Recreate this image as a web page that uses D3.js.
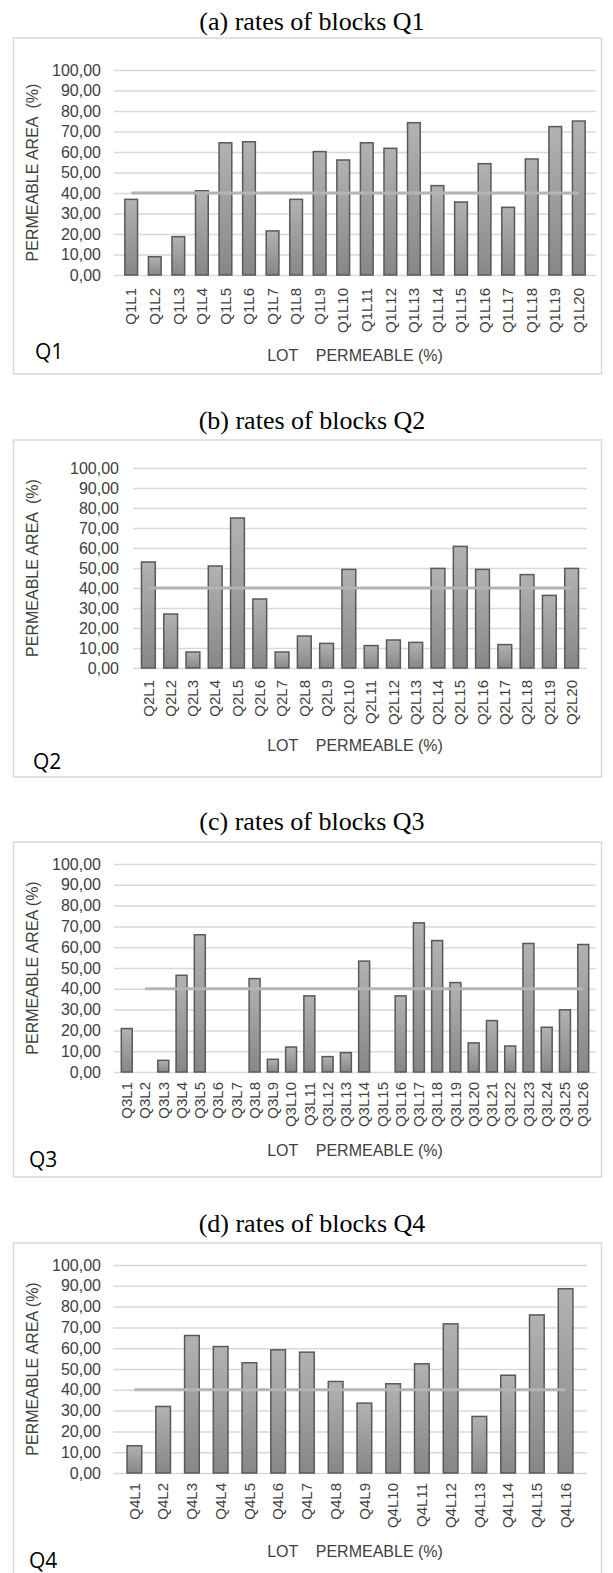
<!DOCTYPE html>
<html>
<head>
<meta charset="utf-8">
<script src="https://cdn.jsdelivr.net/npm/d3@7"></script>
<style>
  body { margin: 0; background: #fff; }
  svg { display: block; }
</style>
</head>
<body>
<div id="chart"></div>
<script>
// values (permeable area, %)
var q1Lots = ["Q1L1","Q1L2","Q1L3","Q1L4","Q1L5","Q1L6","Q1L7","Q1L8","Q1L9","Q1L10",
              "Q1L11","Q1L12","Q1L13","Q1L14","Q1L15","Q1L16","Q1L17","Q1L18","Q1L19","Q1L20"];
var q1Rates = [36.9, 8.9, 18.7, 41.1, 64.5, 65.0, 21.5, 36.9, 60.2, 56.1,
               64.5, 61.8, 74.3, 43.6, 35.6, 54.3, 33.0, 56.6, 72.4, 75.1];

var q2Lots = ["Q2L1","Q2L2","Q2L3","Q2L4","Q2L5","Q2L6","Q2L7","Q2L8","Q2L9","Q2L10",
              "Q2L11","Q2L12","Q2L13","Q2L14","Q2L15","Q2L16","Q2L17","Q2L18","Q2L19","Q2L20"];
var q2Rates = [53.0, 27.0, 8.0, 51.0, 75.0, 34.5, 8.0, 16.0, 12.3, 49.3,
               11.2, 14.0, 12.8, 49.8, 60.8, 49.3, 11.7, 46.7, 36.3, 49.8];

var q3Lots = ["Q3L1","Q3L2","Q3L3","Q3L4","Q3L5","Q3L6","Q3L7","Q3L8","Q3L9","Q3L10",
              "Q3L11","Q3L12","Q3L13","Q3L14","Q3L15","Q3L16","Q3L17","Q3L18","Q3L19","Q3L20",
              "Q3L21","Q3L22","Q3L23","Q3L24","Q3L25","Q3L26"];
var q3Rates = [20.9, 0, 5.6, 46.5, 66.0, 0, 0, 44.9, 6.1, 12.0,
               36.6, 7.4, 9.3, 53.3, 0, 36.6, 71.7, 63.2, 43.0, 14.0,
               24.7, 12.5, 61.8, 21.5, 29.9, 61.3];

var q4Lots = ["Q4L1","Q4L2","Q4L3","Q4L4","Q4L5","Q4L6","Q4L7","Q4L8","Q4L9","Q4L10",
              "Q4L11","Q4L12","Q4L13","Q4L14","Q4L15","Q4L16"];
var q4Rates = [13.1, 32.0, 66.1, 60.8, 53.0, 59.2, 58.1, 44.0, 33.6, 42.9,
               52.5, 71.7, 27.2, 47.0, 76.0, 88.6];

var yTicks = [0, 10, 20, 30, 40, 50, 60, 70, 80, 90, 100];
var threshold = 40;

var w = 613;
var h = 1573;

var svg = d3.select("#chart")
            .append("svg")
            .attr("width", w)
            .attr("height", h);

// bar gradient: lighter on top, darker at the base
var grad = svg.append("defs").append("linearGradient")
              .attr("id", "barFill")
              .attr("x1", 0).attr("y1", 0).attr("x2", 0).attr("y2", 1);
grad.append("stop").attr("offset", "0%").attr("stop-color", "#b2b2b2");
grad.append("stop").attr("offset", "100%").attr("stop-color", "#878787");

var comma = d3.formatLocale({decimal: ",", thousands: ".", grouping: [3], currency: ["", ""]}).format(".2f");

var panels = [
  {title: "(a) rates of blocks Q1", block: "Q1", yTitle: "PERMEABLE AREA  (%)",
   lots: q1Lots, rates: q1Rates, threshFrom: 0,
   titleY: 29.5, boxTop: 38, boxBottom: 374, top: 70, bottom: 275, left: 114, right: 596,
   tickX: 101, labelGap: 13, lotY: 360.5, blockX: 35, blockY: 359, pad: 0.46},
  {title: "(b) rates of blocks Q2", block: "Q2", yTitle: "PERMEABLE AREA  (%)",
   lots: q2Lots, rates: q2Rates, threshFrom: 0,
   titleY: 429, boxTop: 440, boxBottom: 777, top: 468, bottom: 668, left: 133, right: 587,
   tickX: 119, labelGap: 12, lotY: 751, blockX: 33, blockY: 769, pad: 0.38},
  {title: "(c) rates of blocks Q3", block: "Q3", yTitle: "PERMEABLE AREA (%)",
   lots: q3Lots, rates: q3Rates, threshFrom: 1,
   titleY: 830, boxTop: 842, boxBottom: 1177, top: 864, bottom: 1072, left: 114, right: 596,
   tickX: 101, labelGap: 10, lotY: 1156, blockX: 29, blockY: 1167, pad: 0.4},
  {title: "(d) rates of blocks Q4", block: "Q4", yTitle: "PERMEABLE AREA (%)",
   lots: q4Lots, rates: q4Rates, threshFrom: 0,
   titleY: 1232, boxTop: 1243, boxBottom: 1600, top: 1265, bottom: 1473, left: 113, right: 587,
   tickX: 101, labelGap: 10, lotY: 1557, blockX: 29, blockY: 1568, pad: 0.49}
];

panels.forEach(drawPanel);

function drawPanel(p) {
    var g = svg.append("g");

    // caption above the frame
    g.append("text")
        .attr("x", 312)
        .attr("y", p.titleY)
        .attr("text-anchor", "middle")
        .style("font-family", "'Liberation Serif', 'Times New Roman', serif")
        .style("font-size", "26px")
        .style("fill", "#000")
        .text(p.title);

    // frame
    g.append("rect")
        .attr("x", 13.5)
        .attr("y", p.boxTop)
        .attr("width", 588)
        .attr("height", p.boxBottom - p.boxTop)
        .attr("fill", "none")
        .attr("stroke", "#d9d9d9")
        .attr("stroke-width", 1.5);

    var data = p.lots.map(function(d, i) { return {lot: d, rate: p.rates[i]}; });

    var xScale = d3.scaleBand()
                   .domain(p.lots)
                   .range([p.left, p.right])
                   .padding(p.pad);

    var yScale = d3.scaleLinear()
                   .domain([0, 100])
                   .range([p.bottom, p.top]);

    // gridlines
    var grid = g.append("g")
        .attr("transform", "translate(" + p.left + ",0)")
        .call(d3.axisLeft(yScale).tickValues(yTicks).tickSize(-(p.right - p.left)).tickFormat(""));
    grid.select(".domain").remove();
    grid.selectAll("line").attr("stroke", "#d9d9d9").attr("stroke-width", 1.5);

    // y labels
    var yAxis = g.append("g")
        .attr("transform", "translate(" + p.tickX + ",0)")
        .call(d3.axisLeft(yScale).tickValues(yTicks).tickSize(0).tickPadding(0).tickFormat(comma));
    yAxis.select(".domain").remove();
    yAxis.selectAll("text")
        .style("font-family", "'Liberation Sans', Arial, sans-serif")
        .style("font-size", "16px")
        .style("fill", "#404040");

    // bars
    g.selectAll(".bar")
        .data(data.filter(function(d) { return d.rate > 0; }))
        .enter().append("rect")
        .attr("class", "bar")
        .attr("x", function(d) { return xScale(d.lot); })
        .attr("y", function(d) { return yScale(d.rate); })
        .attr("width", xScale.bandwidth())
        .attr("height", function(d) { return yScale(0) - yScale(d.rate); })
        .attr("fill", "url(#barFill)")
        .attr("stroke", "#595959")
        .attr("stroke-width", 1.5);

    // 40% reference line
    var half = xScale.bandwidth() / 2;
    g.append("line")
        .attr("x1", xScale(p.lots[p.threshFrom]) + half)
        .attr("y1", yScale(threshold))
        .attr("x2", xScale(p.lots[p.lots.length - 1]) + half)
        .attr("y2", yScale(threshold))
        .attr("stroke", "#b4b4b4")
        .attr("stroke-width", 3);

    // x labels, rotated
    var xAxis = g.append("g")
        .attr("transform", "translate(0," + p.bottom + ")")
        .call(d3.axisBottom(xScale).tickSize(0));
    xAxis.select(".domain").remove();
    xAxis.selectAll("text")
        .attr("transform", "rotate(-90)")
        .attr("x", -p.labelGap)
        .attr("y", 0)
        .attr("dy", "0.35em")
        .style("text-anchor", "end")
        .style("font-family", "'Liberation Sans', Arial, sans-serif")
        .style("font-size", "15px")
        .style("fill", "#404040");

    // axis titles
    g.append("text")
        .attr("transform", "translate(38," + ((p.top + p.bottom) / 2) + ") rotate(-90)")
        .attr("text-anchor", "middle")
        .style("white-space", "pre")
        .style("font-family", "'Liberation Sans', Arial, sans-serif")
        .style("font-size", "16px")
        .style("fill", "#404040")
        .text(p.yTitle);

    g.append("text")
        .attr("x", 355)
        .attr("y", p.lotY)
        .attr("text-anchor", "middle")
        .style("white-space", "pre")
        .style("font-family", "'Liberation Sans', Arial, sans-serif")
        .style("font-size", "16px")
        .style("fill", "#404040")
        .text("LOT    PERMEABLE (%)");

    g.append("text")
        .attr("x", p.blockX)
        .attr("y", p.blockY)
        .style("font-family", "'Open Sans', 'Noto Sans', sans-serif")
        .style("font-size", "21px")
        .style("fill", "#000")
        .text(p.block);
}
</script>
</body>
</html>
